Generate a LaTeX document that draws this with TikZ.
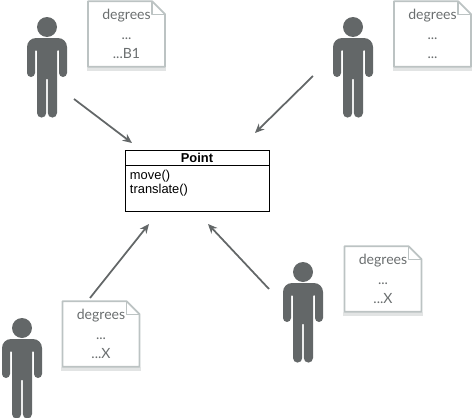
\documentclass[tikz,border=0pt]{standalone}
\usepackage{fontspec}
\setmainfont{Lato}
\newfontfamily\umlfont{Liberation Sans}
\usetikzlibrary{arrows.meta,positioning,calc}

\definecolor{figgray}{HTML}{636768}
\definecolor{notegray}{HTML}{BCC3C3}
\definecolor{shadegray}{HTML}{E2E4E4}
\definecolor{textgray}{HTML}{6A6E6F}

\tikzset{
  notebox/.style={minimum width=2.3cm,minimum height=1.95cm,inner sep=0pt,
    align=center,text=textgray,font=\fontsize{12}{16.6}\selectfont},
  noteline/.style={draw=notegray,line width=1.5pt,line join=round},
  classhead/.style={draw=black,line width=.8pt,minimum width=4.32cm,minimum height=.45cm,
    inner sep=0pt,font=\umlfont\bfseries\fontsize{11}{12}\selectfont},
  classbody/.style={draw=black,line width=.8pt,minimum width=4.32cm,minimum height=1.38cm,
    text width=4.02cm,inner sep=0pt,align=left,text depth=.87cm,
    font=\umlfont\fontsize{11}{12.6}\selectfont},
  usearrow/.style={-{Stealth[length=8pt,width=7pt]},draw=figgray,line width=1.5pt}
}

\begin{document}
\begin{tikzpicture}[scale=.03]
\useasboundingbox (0,0) rectangle (472,-418);

% users
\foreach \x/\y in {47/-27,353/-27,303/-272,22/-328} {
  \begin{scope}[shift={(\x,\y)}]
    \fill[figgray] (0,0) circle (10);
    \fill[figgray] (-20,-46) -- (-20,-20) arc (180:90:9) -- (11,-11) arc (90:0:9)
      -- (20,-46) arc (0:-180:4) -- (12,-24) arc (0:180:1)
      -- (10,-86) arc (0:-180:4.6) -- (0.8,-52) -- (-0.8,-52)
      -- (-0.8,-86) arc (0:-180:4.6) -- (-10,-24) arc (0:180:1)
      -- (-12,-46) arc (0:-180:4) -- cycle;
  \end{scope}
}

% notes
\node[notebox] (N1) at (126.5,-34) {degrees\\...\\...B1};
\node[notebox] (N2) at (432.5,-34) {degrees\\...\\...};
\node[notebox] (N3) at (383,-279) {degrees\\...\\...X};
\node[notebox] (N4) at (101,-334) {degrees\\...\\...X};

\foreach \n in {N1,N2,N3,N4} {
  \fill[shadegray] ($(\n.south west)+(-1,-4)$) rectangle ($(\n.south east)+(1,0)$);
  \draw[noteline] (\n.north west) -- ($(\n.north east)+(-13,0)$) -- ($(\n.north east)+(0,-13)$)
    -- (\n.south east) -- (\n.south west) -- cycle;
  \draw[noteline,line width=1pt] ($(\n.north east)+(-13,0)$) |- ($(\n.north east)+(0,-13)$);
}

% class
\node[classhead] (PT) at (197,-157.5) {Point};
\node[classbody,below=0pt of PT] (OPS) {move()\\translate()};

% ends of the arrows
\coordinate (S1) at (74,-99);
\coordinate (E1) at (132,-143);
\coordinate (S2) at (313,-76);
\coordinate (E2) at (255,-133);
\coordinate (S3) at (90,-298);
\coordinate (E3) at (149,-224);
\coordinate (S4) at (269,-289);
\coordinate (E4) at (208,-224);

\foreach \i in {1,2,3,4}
  \draw[usearrow] (S\i) -- (E\i);

\end{tikzpicture}
\end{document}
